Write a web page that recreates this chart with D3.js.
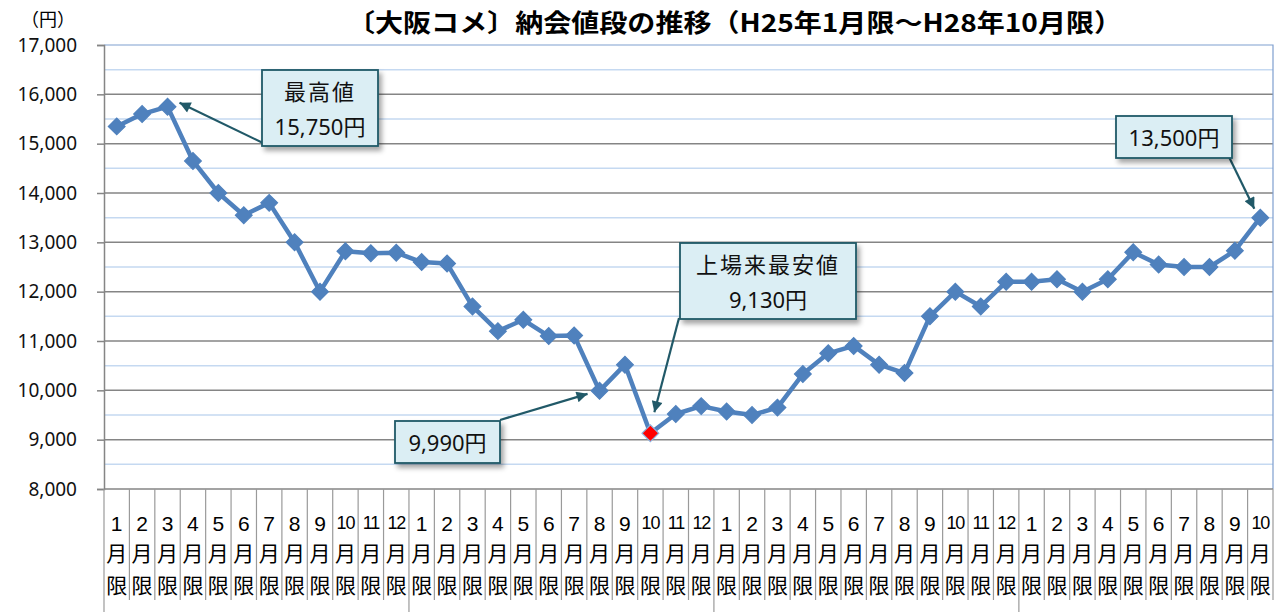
<!DOCTYPE html>
<html>
<head>
<meta charset="utf-8">
<script src="https://cdn.jsdelivr.net/npm/d3@7"></script>
<style>
  body { margin: 0; background: #fff; }
  svg { display: block; }
</style>
</head>
<body>
<div class="viz"></div>
<script>
const width = 1276;
const height = 612;

// 納会値段 H25年1月限〜H28年10月限 (円)
const months = [
  "1", "2", "3", "4", "5", "6", "7", "8", "9", "10", "11", "12",
  "1", "2", "3", "4", "5", "6", "7", "8", "9", "10", "11", "12",
  "1", "2", "3", "4", "5", "6", "7", "8", "9", "10", "11", "12",
  "1", "2", "3", "4", "5", "6", "7", "8", "9", "10"
];
const prices = [
  15350, 15600, 15750, 14650, 14000, 13550, 13800, 13000, 12000, 12820, 12780, 12790,
  12600, 12570, 11700, 11200, 11430, 11100, 11110, 9990, 10520, 9130, 9520, 9680,
  9570, 9500, 9650, 10330, 10750, 10900, 10520, 10350, 11500, 12000, 11700, 12200,
  12200, 12250, 12000, 12250, 12800, 12550, 12500, 12500, 12830, 13500
];
const yTicks = [8000, 9000, 10000, 11000, 12000, 13000, 14000, 15000, 16000, 17000];
const yMinor = [8500, 9500, 10500, 11500, 12500, 13500, 14500, 15500, 16500];
const yearStarts = [0, 12, 24, 36];
const lowIndex = 21;

// callouts: which point, its text, box placement, arrow tip offset from the point
const callouts = [
  { i: 2, lines: ["最高値", "15,750円"], box: [262, 70, 116, 76], from: [263, 143], tip: [12, -4] },
  { i: 45, lines: ["13,500円"], box: [1116, 116, 116, 42], from: [1229, 157], tip: [-6, -9] },
  { i: 21, lines: ["上場来最安値", "9,130円"], box: [680, 243, 176, 76], from: [679, 318], tip: [4, -21] },
  { i: 19, lines: ["9,990円"], box: [395, 421, 105, 42], from: [500, 420], tip: [-12, 3] }
];

const plot = { left: 104, right: 1273, top: 45, bottom: 489 };

const svg = d3.select(".viz")
  .append("svg")
  .attr("width", width)
  .attr("height", height)
  .style("font-family", "'Noto Sans', 'Noto Sans CJK JP', sans-serif");

const defs = svg.append("defs");
defs.append("filter")
  .attr("id", "shadow")
  .attr("x", "-20%").attr("y", "-20%")
  .attr("width", "150%").attr("height", "160%")
  .append("feDropShadow")
  .attr("dx", 3).attr("dy", 4)
  .attr("stdDeviation", 2.5)
  .attr("flood-color", "#000")
  .attr("flood-opacity", 0.35);
defs.append("marker")
  .attr("id", "arrow")
  .attr("viewBox", "0 0 10 10")
  .attr("refX", 10).attr("refY", 5)
  .attr("markerWidth", 5.5).attr("markerHeight", 5)
  .attr("markerUnits", "strokeWidth")
  .attr("orient", "auto")
  .append("path")
  .attr("d", "M0,0 L10,5 L0,10 Z")
  .attr("fill", "#215968");

const x = d3.scaleBand()
  .domain(d3.range(prices.length))
  .range([plot.left, plot.right]);

const y = d3.scaleLinear()
  .domain([8000, 17000])
  .range([plot.bottom, plot.top]);

const px = i => x(i) + x.bandwidth() / 2;

// grid
svg.append("g")
  .selectAll("line")
  .data(yMinor)
  .join("line")
  .attr("x1", plot.left).attr("x2", plot.right)
  .attr("y1", d => y(d)).attr("y2", d => y(d))
  .attr("stroke", "#c5d9f1")
  .attr("stroke-width", 1.5);

svg.append("g")
  .selectAll("line")
  .data(yTicks.slice(1, -1))
  .join("line")
  .attr("x1", plot.left).attr("x2", plot.right)
  .attr("y1", d => y(d)).attr("y2", d => y(d))
  .attr("stroke", "#858585")
  .attr("stroke-width", 1.5);

// plot border top / right
svg.append("path")
  .attr("d", `M${plot.left},${y(17000)}H${plot.right}V${plot.bottom}`)
  .attr("fill", "none")
  .attr("stroke", "#7f9fcf")
  .attr("stroke-width", 1.2);

// y axis
const yAxis = svg.append("g")
  .attr("transform", `translate(${plot.left},0)`)
  .call(d3.axisLeft(y).tickValues(yTicks).tickSize(7).tickPadding(20).tickFormat(d3.format(",")));
yAxis.select(".domain").attr("stroke", "#858585").attr("stroke-width", 1.5);
yAxis.selectAll(".tick line").attr("stroke", "#858585").attr("stroke-width", 1.5);
yAxis.selectAll(".tick text")
  .attr("font-size", 19)
  .attr("font-family", "'Noto Sans', sans-serif")
  .attr("fill", "#111");

svg.append("text")
  .attr("x", 48).attr("y", 18)
  .attr("text-anchor", "middle")
  .attr("dominant-baseline", "central")
  .attr("font-size", 18)
  .attr("font-family", "'Noto Sans CJK JP', sans-serif")
  .text("（円）");

// x axis baseline + separators
svg.append("line")
  .attr("x1", plot.left).attr("x2", plot.right)
  .attr("y1", plot.bottom).attr("y2", plot.bottom)
  .attr("stroke", "#858585").attr("stroke-width", 1.5);

svg.append("g")
  .selectAll("line")
  .data(d3.range(prices.length + 1))
  .join("line")
  .attr("x1", i => i < prices.length ? x(i) : plot.right)
  .attr("x2", i => i < prices.length ? x(i) : plot.right)
  .attr("y1", plot.bottom)
  .attr("y2", i => yearStarts.includes(i) ? height : 600)
  .attr("stroke", "#9a9a9a")
  .attr("stroke-width", 1.2);

const xLabels = svg.append("g")
  .selectAll("g")
  .data(months)
  .join("g")
  .attr("transform", (d, i) => `translate(${px(i)},0)`);
xLabels.append("text")
  .attr("y", 523)
  .attr("text-anchor", "middle")
  .attr("dominant-baseline", "central")
  .attr("font-family", "'Liberation Sans', Arial, sans-serif")
  .attr("font-size", d => d.length > 1 ? 18 : 21)
  .attr("letter-spacing", d => d.length > 1 ? -1.2 : 0)
  .text(d => d);
xLabels.append("text")
  .attr("y", 552)
  .attr("text-anchor", "middle")
  .attr("dominant-baseline", "central")
  .attr("font-family", "'Noto Sans CJK JP', sans-serif")
  .attr("font-size", 21)
  .text("月");
xLabels.append("text")
  .attr("y", 584)
  .attr("text-anchor", "middle")
  .attr("dominant-baseline", "central")
  .attr("font-family", "'Noto Sans CJK JP', sans-serif")
  .attr("font-size", 21)
  .text("限");

// line
svg.append("path")
  .datum(prices)
  .attr("fill", "none")
  .attr("stroke", "#4f81bd")
  .attr("stroke-width", 4.5)
  .attr("stroke-linejoin", "round")
  .attr("d", d3.line().x((d, i) => px(i)).y(d => y(d)));

svg.append("g")
  .selectAll("path")
  .data(prices)
  .join("path")
  .attr("transform", (d, i) => `translate(${px(i)},${y(d)}) rotate(45)`)
  .attr("d", d3.symbol().type(d3.symbolSquare).size(140))
  .attr("fill", (d, i) => i === lowIndex ? "#ff0000" : "#4f81bd")
  .attr("stroke", (d, i) => i === lowIndex ? "#8fb0dc" : "#4f81bd")
  .attr("stroke-width", 1.2);

// callouts
const callout = svg.append("g")
  .selectAll("g")
  .data(callouts)
  .join("g");

callout.append("line")
  .attr("x1", d => d.from[0])
  .attr("y1", d => d.from[1])
  .attr("x2", d => px(d.i) + d.tip[0])
  .attr("y2", d => y(prices[d.i]) + d.tip[1])
  .attr("stroke", "#215968")
  .attr("stroke-width", 2.2)
  .attr("marker-end", "url(#arrow)");

callout.append("rect")
  .attr("x", d => d.box[0])
  .attr("y", d => d.box[1])
  .attr("width", d => d.box[2])
  .attr("height", d => d.box[3])
  .attr("fill", "#dbeef4")
  .attr("stroke", "#215968")
  .attr("stroke-width", 1.8)
  .attr("filter", "url(#shadow)");

callout.each(function (d) {
  const g = d3.select(this);
  const n = d.lines.length;
  d.lines.forEach((t, k) => {
    g.append("text")
      .attr("x", d.box[0] + d.box[2] / 2)
      .attr("y", d.box[1] + d.box[3] / 2 + (k - (n - 1) / 2) * 35)
      .attr("text-anchor", "middle")
      .attr("dominant-baseline", "central")
      .attr("font-size", 22)
      .attr("letter-spacing", /[0-9]/.test(t) ? 0 : 2)
      .attr("fill", "#111")
      .text(t);
  });
});

// title
svg.append("text")
  .attr("x", 347)
  .attr("y", 21)
  .attr("dominant-baseline", "central")
  .attr("font-family", "'Noto Sans CJK JP', sans-serif")
  .attr("font-weight", "bold")
  .attr("font-size", 25)
  .attr("textLength", 775)
  .attr("lengthAdjust", "spacingAndGlyphs")
  .text("〔大阪コメ〕納会値段の推移（H25年1月限～H28年10月限）");
</script>
</body>
</html>
